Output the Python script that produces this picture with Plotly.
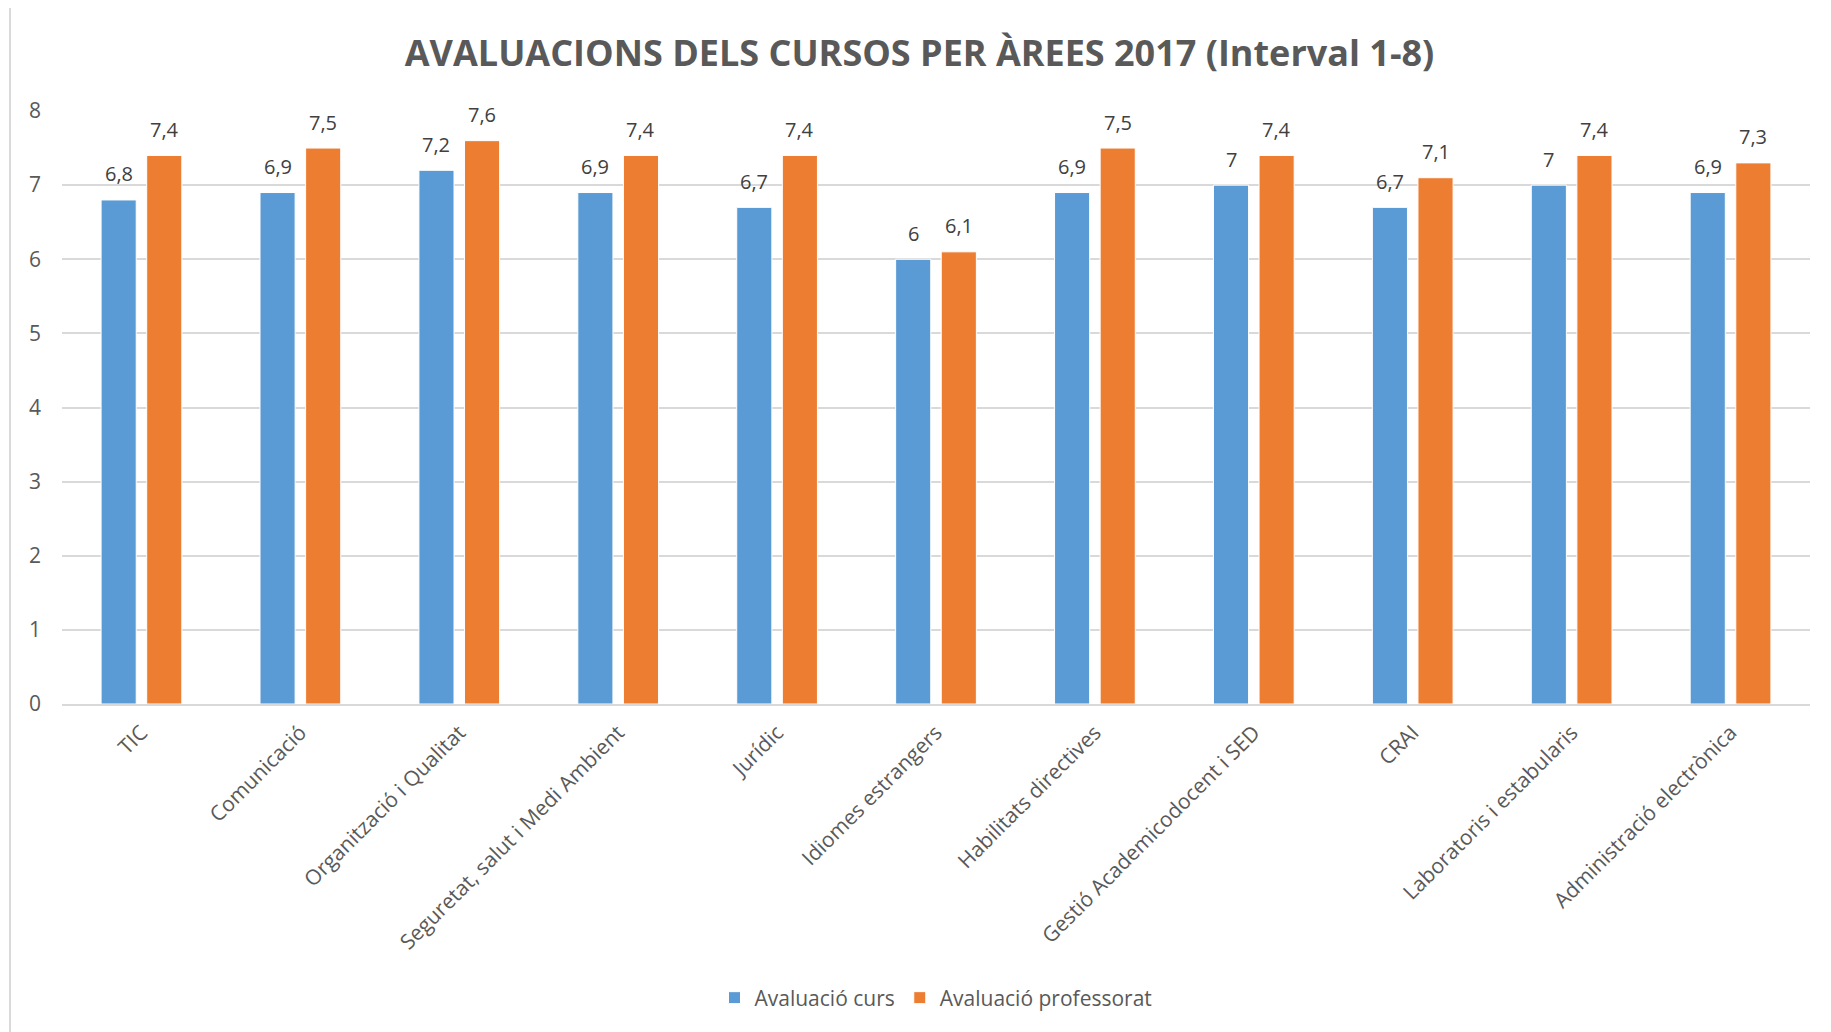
import plotly.graph_objects as go

categories = ["TIC", "Comunicació", "Organització i Qualitat", "Seguretat, salut i Medi Ambient",
              "Jurídic", "Idiomes estrangers", "Habilitats directives", "Gestió Academicodocent i SED",
              "CRAI", "Laboratoris i estabularis", "Administració electrònica"]
curs = [6.8, 6.9, 7.2, 6.9, 6.7, 6.0, 6.9, 7.0, 6.7, 7.0, 6.9]
professorat = [7.4, 7.5, 7.6, 7.4, 7.4, 6.1, 7.5, 7.4, 7.1, 7.4, 7.3]
y_ticks = [0, 1, 2, 3, 4, 5, 6, 7, 8]

def fmt(v):
    s = ("%.1f" % v).rstrip("0").rstrip(".")
    return s.replace(".", ",")

OFF = 8  # default body margin of the html page
W, H = 1831 - OFF, 1032 - OFF
L, R, T, B = 62 - OFF, 1810 - OFF, 111 - OFF, 704 - OFF
FONT = "Open Sans"
BARGAP = 0.426
GROUPGAP = 0.23
COLORS = ["#5B9BD5", "#ED7D31"]

fig = go.Figure()
fig.add_trace(go.Bar(name="Avaluació curs", x=categories, y=curs,
                     marker=dict(color=COLORS[0], line=dict(color="white", width=1))))
fig.add_trace(go.Bar(name="Avaluació professorat", x=categories, y=professorat,
                     marker=dict(color=COLORS[1], line=dict(color="white", width=1))))

pw, ph = R - L, B - T
def px(x): return (x - L - OFF) / pw
def py(y): return (B + OFF - y) / ph

slot = (1 - BARGAP) / 2
annotations = []
for k, series in enumerate([curs, professorat]):
    shift = (k - 0.5) * slot
    for i, v in enumerate(series):
        annotations.append(dict(x=i + shift, y=v, xref="x", yref="y", text=fmt(v),
                                showarrow=False, yanchor="middle", yshift=26,
                                font=dict(family=FONT, size=20, color="#404040")))

fig.update_layout(
    width=W, height=H,
    margin=dict(l=L, r=W - R, t=T, b=H - B, autoexpand=False),
    paper_bgcolor="white", plot_bgcolor="white",
    barmode="group", bargap=BARGAP, bargroupgap=GROUPGAP,
    title=dict(text="<b>AVALUACIONS DELS CURSOS PER ÀREES 2017 (Interval 1-8)</b>",
               x=0.5, xanchor="center", y=1 - (53 - OFF) / H, yanchor="middle",
               font=dict(family=FONT, size=36, color="#595959")),
    font=dict(family=FONT, color="#595959"),
    xaxis=dict(tickangle=-45, tickfont=dict(family=FONT, size=21, color="#595959"),
               showgrid=False, showline=True, linecolor="#d9d9d9", linewidth=2, ticks="",
               ticklabelstandoff=6),
    yaxis=dict(range=[0, 8], tickvals=y_ticks, ticktext=[str(t) for t in y_ticks],
               tickfont=dict(family=FONT, size=21, color="#595959"),
               showgrid=True, gridcolor="#d9d9d9", gridwidth=2, zeroline=False,
               showline=False, ticks="", ticklabelstandoff=20),
    legend=dict(orientation="h", x=0.5, xanchor="center", y=py(998), yanchor="middle",
                font=dict(family=FONT, size=21, color="#595959"), itemwidth=30,
                traceorder="normal"),
    annotations=annotations,
    shapes=[dict(type="rect", xref="paper", yref="paper",
                 x0=px(10), x1=px(1829), y0=py(1040), y1=py(6),
                 line=dict(color="#d9d9d9", width=2), fillcolor="rgba(0,0,0,0)", layer="below")],
)

fig.write_html("out.html")
